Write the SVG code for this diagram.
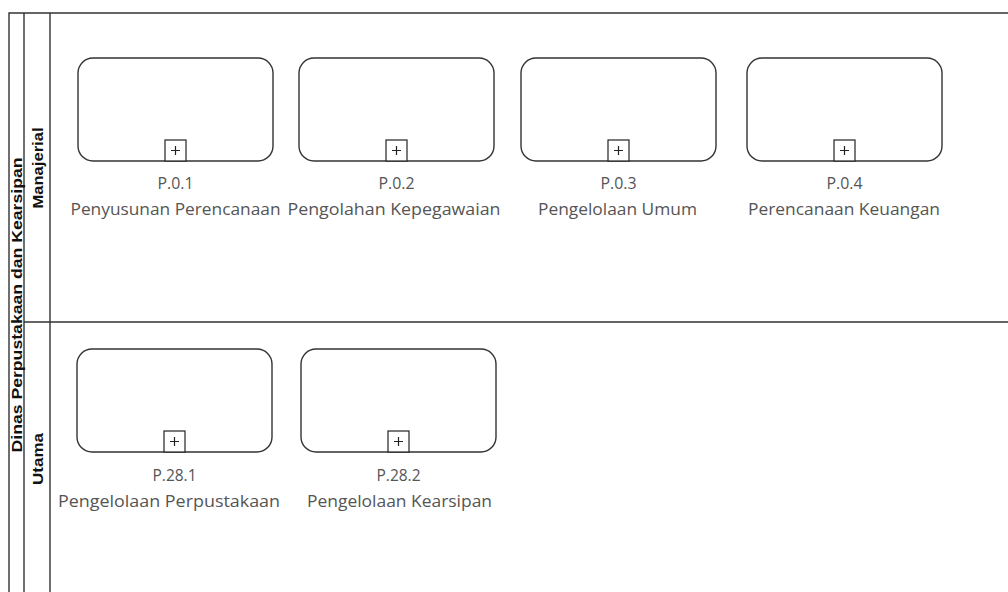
<svg xmlns="http://www.w3.org/2000/svg" width="1008" height="592" viewBox="0 0 1008 592">
<style>
.ln{stroke:#333;stroke-width:1.4;fill:none}
.task{fill:#fff;stroke:#333;stroke-width:1.4}
.mk{fill:#fff;stroke:#222;stroke-width:1.2}
.plus{stroke:#222;stroke-width:1.2}
.lbl{font-family:"Open Sans",sans-serif;font-size:16px;fill:#555;text-anchor:middle}
.hd{font-family:"Liberation Sans",Arial,sans-serif;font-size:15px;font-weight:bold;fill:#111;text-anchor:middle}
</style>
<defs>
<g id="tk">
<rect class="task" x="0" y="0" width="195" height="103" rx="15"/>
<rect class="mk" x="87" y="82" width="21" height="21"/>
<path class="plus" d="M93 92.5h9M97.5 88v9"/>
</g>
</defs>
<rect width="1008" height="592" fill="#fff"/>
<g id="pool">
<path class="ln" d="M9 592V13H1008M24 13V592M50 13V592M24 322H1008"/>
<text class="hd" transform="translate(22,305) rotate(-90)" textLength="295" lengthAdjust="spacingAndGlyphs">Dinas Perpustakaan dan Kearsipan</text>
</g>
<g id="lane-manajerial">
<text class="hd" transform="translate(43,168) rotate(-90)" textLength="81" lengthAdjust="spacingAndGlyphs">Manajerial</text>
</g>
<g id="lane-utama">
<text class="hd" transform="translate(43,459) rotate(-90)" textLength="52" lengthAdjust="spacingAndGlyphs">Utama</text>
</g>
<g id="P01"><use href="#tk" x="78" y="58"/><text class="lbl" x="175.5" y="189" textLength="36" lengthAdjust="spacingAndGlyphs">P.0.1</text><text class="lbl" x="175.5" y="215" textLength="210" lengthAdjust="spacingAndGlyphs">Penyusunan Perencanaan</text></g>
<g id="P02"><use href="#tk" x="299" y="58"/><text class="lbl" x="396.5" y="189" textLength="36" lengthAdjust="spacingAndGlyphs">P.0.2</text><text class="lbl" x="394" y="215" textLength="213" lengthAdjust="spacingAndGlyphs">Pengolahan Kepegawaian</text></g>
<g id="P03"><use href="#tk" x="521" y="58"/><text class="lbl" x="618.5" y="189" textLength="36" lengthAdjust="spacingAndGlyphs">P.0.3</text><text class="lbl" x="617.5" y="215" textLength="159" lengthAdjust="spacingAndGlyphs">Pengelolaan Umum</text></g>
<g id="P04"><use href="#tk" x="747" y="58"/><text class="lbl" x="844.5" y="189" textLength="36" lengthAdjust="spacingAndGlyphs">P.0.4</text><text class="lbl" x="844" y="215" textLength="192" lengthAdjust="spacingAndGlyphs">Perencanaan Keuangan</text></g>
<g id="P281"><use href="#tk" x="77" y="349"/><text class="lbl" x="174.5" y="481" textLength="44" lengthAdjust="spacingAndGlyphs">P.28.1</text><text class="lbl" x="169" y="507" textLength="222" lengthAdjust="spacingAndGlyphs">Pengelolaan Perpustakaan</text></g>
<g id="P282"><use href="#tk" x="301" y="349"/><text class="lbl" x="398.5" y="481" textLength="44" lengthAdjust="spacingAndGlyphs">P.28.2</text><text class="lbl" x="399.5" y="507" textLength="185" lengthAdjust="spacingAndGlyphs">Pengelolaan Kearsipan</text></g>
<g id="connectors"></g>
</svg>
